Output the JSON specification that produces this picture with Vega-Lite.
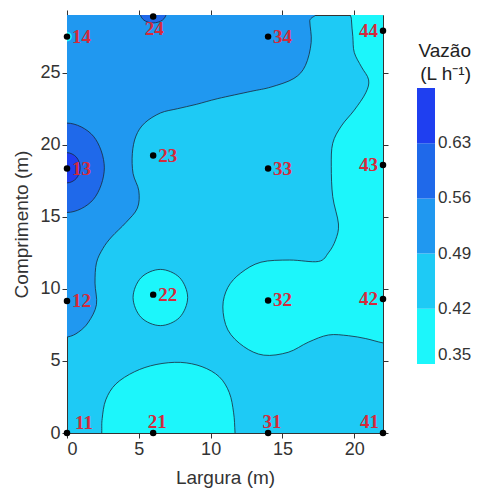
{
  "$schema": "https://vega.github.io/schema/vega-lite/v6.json",
  "width": 316,
  "height": 418,
  "autosize": {"type": "none"},
  "padding": {"left": 67, "top": 15, "right": 117, "bottom": 57},
  "config": {
    "view": {"fill": "#1ECAF5", "stroke": null},
    "font": "Liberation Sans",
    "axis": {
      "grid": false,
      "labelFontSize": 18,
      "labelColor": "#333333",
      "labelFont": "Liberation Sans",
      "tickColor": "#333333",
      "domainColor": "#333333",
      "tickSize": 5,
      "labelPadding": 2,
      "titleFontSize": 19,
      "titleFontWeight": "normal",
      "titleColor": "#333333",
      "titleFont": "Liberation Sans"
    }
  },
  "datasets": {
    "poly": [
      {"p": "L1", "v": 0.38, "i": 1, "x": 2.42, "y": 0},
      {"p": "L1", "v": 0.38, "i": 2, "x": 2.45, "y": 1.0},
      {"p": "L1", "v": 0.38, "i": 3, "x": 2.7, "y": 2.3},
      {"p": "L1", "v": 0.38, "i": 4, "x": 3.4, "y": 3.4},
      {"p": "L1", "v": 0.38, "i": 5, "x": 4.7, "y": 4.25},
      {"p": "L1", "v": 0.38, "i": 6, "x": 6.2, "y": 4.75},
      {"p": "L1", "v": 0.38, "i": 7, "x": 7.9, "y": 4.9},
      {"p": "L1", "v": 0.38, "i": 8, "x": 9.4, "y": 4.6},
      {"p": "L1", "v": 0.38, "i": 9, "x": 10.6, "y": 3.9},
      {"p": "L1", "v": 0.38, "i": 10, "x": 11.3, "y": 2.8},
      {"p": "L1", "v": 0.38, "i": 11, "x": 11.6, "y": 1.4},
      {"p": "L1", "v": 0.38, "i": 12, "x": 11.7, "y": 0},
      {"p": "L1", "v": 0.38, "i": 13, "x": 11.8, "y": -2},
      {"p": "L1", "v": 0.38, "i": 14, "x": 2.4, "y": -2},

      {"p": "L2", "v": 0.38, "i": 1, "x": 8.4, "y": 9.4},
      {"p": "L2", "v": 0.38, "i": 2, "x": 7.84, "y": 10.78},
      {"p": "L2", "v": 0.38, "i": 3, "x": 6.5, "y": 11.35},
      {"p": "L2", "v": 0.38, "i": 4, "x": 5.16, "y": 10.78},
      {"p": "L2", "v": 0.38, "i": 5, "x": 4.6, "y": 9.4},
      {"p": "L2", "v": 0.38, "i": 6, "x": 5.16, "y": 8.02},
      {"p": "L2", "v": 0.38, "i": 7, "x": 6.5, "y": 7.45},
      {"p": "L2", "v": 0.38, "i": 8, "x": 7.84, "y": 8.02},

      {"p": "L3", "v": 0.38, "i": 1, "x": 23.5, "y": 6.0},
      {"p": "L3", "v": 0.38, "i": 2, "x": 22, "y": 6.25},
      {"p": "L3", "v": 0.38, "i": 3, "x": 20.8, "y": 6.55},
      {"p": "L3", "v": 0.38, "i": 4, "x": 19.6, "y": 6.75},
      {"p": "L3", "v": 0.38, "i": 5, "x": 18.2, "y": 6.8},
      {"p": "L3", "v": 0.38, "i": 6, "x": 16.8, "y": 6.3},
      {"p": "L3", "v": 0.38, "i": 7, "x": 15.4, "y": 5.6},
      {"p": "L3", "v": 0.38, "i": 8, "x": 13.7, "y": 5.4},
      {"p": "L3", "v": 0.38, "i": 9, "x": 12.3, "y": 6.0},
      {"p": "L3", "v": 0.38, "i": 10, "x": 11.2, "y": 7.15},
      {"p": "L3", "v": 0.38, "i": 11, "x": 10.85, "y": 8.75},
      {"p": "L3", "v": 0.38, "i": 12, "x": 11.2, "y": 10.1},
      {"p": "L3", "v": 0.38, "i": 13, "x": 12.1, "y": 11.1},
      {"p": "L3", "v": 0.38, "i": 14, "x": 13.5, "y": 11.85},
      {"p": "L3", "v": 0.38, "i": 15, "x": 15.5, "y": 12.0},
      {"p": "L3", "v": 0.38, "i": 16, "x": 17.5, "y": 11.9},
      {"p": "L3", "v": 0.38, "i": 17, "x": 18.2, "y": 12.5},
      {"p": "L3", "v": 0.38, "i": 18, "x": 18.7, "y": 13.4},
      {"p": "L3", "v": 0.38, "i": 19, "x": 18.9, "y": 14.5},
      {"p": "L3", "v": 0.38, "i": 20, "x": 18.5, "y": 16.4},
      {"p": "L3", "v": 0.38, "i": 21, "x": 18.4, "y": 18.5},
      {"p": "L3", "v": 0.38, "i": 22, "x": 18.5, "y": 20.1},
      {"p": "L3", "v": 0.38, "i": 23, "x": 19.1, "y": 21.3},
      {"p": "L3", "v": 0.38, "i": 24, "x": 20.0, "y": 22.4},
      {"p": "L3", "v": 0.38, "i": 25, "x": 20.8, "y": 23.6},
      {"p": "L3", "v": 0.38, "i": 26, "x": 21.0, "y": 24.5},
      {"p": "L3", "v": 0.38, "i": 27, "x": 20.5, "y": 25.4},
      {"p": "L3", "v": 0.38, "i": 28, "x": 20.0, "y": 26.4},
      {"p": "L3", "v": 0.38, "i": 29, "x": 19.9, "y": 27.5},
      {"p": "L3", "v": 0.38, "i": 30, "x": 19.8, "y": 28.7},
      {"p": "L3", "v": 0.38, "i": 31, "x": 19.8, "y": 30},
      {"p": "L3", "v": 0.38, "i": 32, "x": 23.5, "y": 30.5},

      {"p": "M1", "v": 0.52, "i": 1, "x": -1.5, "y": 6.5},
      {"p": "M1", "v": 0.52, "i": 2, "x": 0, "y": 6.65},
      {"p": "M1", "v": 0.52, "i": 3, "x": 0.8, "y": 7.0},
      {"p": "M1", "v": 0.52, "i": 4, "x": 1.5, "y": 7.7},
      {"p": "M1", "v": 0.52, "i": 5, "x": 2.05, "y": 8.9},
      {"p": "M1", "v": 0.52, "i": 6, "x": 1.95, "y": 10.4},
      {"p": "M1", "v": 0.52, "i": 7, "x": 2.05, "y": 11.8},
      {"p": "M1", "v": 0.52, "i": 8, "x": 2.5, "y": 12.8},
      {"p": "M1", "v": 0.52, "i": 9, "x": 3.1, "y": 13.6},
      {"p": "M1", "v": 0.52, "i": 10, "x": 4.1, "y": 14.6},
      {"p": "M1", "v": 0.52, "i": 11, "x": 4.9, "y": 15.6},
      {"p": "M1", "v": 0.52, "i": 12, "x": 5.0, "y": 16.8},
      {"p": "M1", "v": 0.52, "i": 13, "x": 4.6, "y": 18.0},
      {"p": "M1", "v": 0.52, "i": 14, "x": 4.55, "y": 19.4},
      {"p": "M1", "v": 0.52, "i": 15, "x": 4.8, "y": 20.6},
      {"p": "M1", "v": 0.52, "i": 16, "x": 5.4, "y": 21.5},
      {"p": "M1", "v": 0.52, "i": 17, "x": 6.5, "y": 22.2},
      {"p": "M1", "v": 0.52, "i": 18, "x": 7.7, "y": 22.5},
      {"p": "M1", "v": 0.52, "i": 19, "x": 9.0, "y": 22.8},
      {"p": "M1", "v": 0.52, "i": 20, "x": 10.5, "y": 23.2},
      {"p": "M1", "v": 0.52, "i": 21, "x": 12.8, "y": 23.7},
      {"p": "M1", "v": 0.52, "i": 22, "x": 14.2, "y": 24.0},
      {"p": "M1", "v": 0.52, "i": 23, "x": 15.8, "y": 24.6},
      {"p": "M1", "v": 0.52, "i": 24, "x": 16.6, "y": 25.5},
      {"p": "M1", "v": 0.52, "i": 25, "x": 17.0, "y": 27.1},
      {"p": "M1", "v": 0.52, "i": 26, "x": 16.9, "y": 28.6},
      {"p": "M1", "v": 0.52, "i": 27, "x": 16.9, "y": 30},
      {"p": "M1", "v": 0.52, "i": 28, "x": -1.5, "y": 30.5},

      {"p": "N1", "v": 0.59, "i": 1, "x": 2.6, "y": 18.4},
      {"p": "N1", "v": 0.59, "i": 2, "x": 1.84, "y": 20.59},
      {"p": "N1", "v": 0.59, "i": 3, "x": 0, "y": 21.5},
      {"p": "N1", "v": 0.59, "i": 4, "x": -1.84, "y": 20.59},
      {"p": "N1", "v": 0.59, "i": 5, "x": -2.6, "y": 18.4},
      {"p": "N1", "v": 0.59, "i": 6, "x": -1.84, "y": 16.21},
      {"p": "N1", "v": 0.59, "i": 7, "x": 0, "y": 15.3},
      {"p": "N1", "v": 0.59, "i": 8, "x": 1.84, "y": 16.21},

      {"p": "N2", "v": 0.59, "i": 1, "x": 6.9, "y": 29.1},
      {"p": "N2", "v": 0.59, "i": 2, "x": 6.64, "y": 29.56},
      {"p": "N2", "v": 0.59, "i": 3, "x": 6.0, "y": 29.75},
      {"p": "N2", "v": 0.59, "i": 4, "x": 5.36, "y": 29.56},
      {"p": "N2", "v": 0.59, "i": 5, "x": 5.1, "y": 29.1},
      {"p": "N2", "v": 0.59, "i": 6, "x": 5.36, "y": 28.64},
      {"p": "N2", "v": 0.59, "i": 7, "x": 6.0, "y": 28.45},
      {"p": "N2", "v": 0.59, "i": 8, "x": 6.64, "y": 28.64},

      {"p": "O1", "v": 0.66, "i": 1, "x": 0.92, "y": 18.4},
      {"p": "O1", "v": 0.66, "i": 2, "x": 0.65, "y": 19.14},
      {"p": "O1", "v": 0.66, "i": 3, "x": 0, "y": 19.45},
      {"p": "O1", "v": 0.66, "i": 4, "x": -0.65, "y": 19.14},
      {"p": "O1", "v": 0.66, "i": 5, "x": -0.92, "y": 18.4},
      {"p": "O1", "v": 0.66, "i": 6, "x": -0.65, "y": 17.66},
      {"p": "O1", "v": 0.66, "i": 7, "x": 0, "y": 17.35},
      {"p": "O1", "v": 0.66, "i": 8, "x": 0.65, "y": 17.66},

      {"p": "H1", "v": 0.38, "i": 1, "x": 0.34, "y": 27.5},
      {"p": "H1", "v": 0.38, "i": 2, "x": 0.24, "y": 27.74},
      {"p": "H1", "v": 0.38, "i": 3, "x": 0, "y": 27.84},
      {"p": "H1", "v": 0.38, "i": 4, "x": -0.24, "y": 27.74},
      {"p": "H1", "v": 0.38, "i": 5, "x": -0.34, "y": 27.5},
      {"p": "H1", "v": 0.38, "i": 6, "x": -0.24, "y": 27.26},
      {"p": "H1", "v": 0.38, "i": 7, "x": 0, "y": 27.16},
      {"p": "H1", "v": 0.38, "i": 8, "x": 0.24, "y": 27.26}
    ],
    "pts": [
      {"id": "11", "x": 0, "y": 0},
      {"id": "12", "x": 0, "y": 9.15},
      {"id": "13", "x": 0, "y": 18.35},
      {"id": "14", "x": 0, "y": 27.5},
      {"id": "21", "x": 6, "y": 0},
      {"id": "22", "x": 6, "y": 9.6},
      {"id": "23", "x": 6, "y": 19.25},
      {"id": "24", "x": 6, "y": 28.9},
      {"id": "31", "x": 14, "y": 0},
      {"id": "32", "x": 14, "y": 9.2},
      {"id": "33", "x": 14, "y": 18.35},
      {"id": "34", "x": 14, "y": 27.5},
      {"id": "41", "x": 22, "y": 0},
      {"id": "42", "x": 22, "y": 9.3},
      {"id": "43", "x": 22, "y": 18.6},
      {"id": "44", "x": 22, "y": 27.9}
    ]
  },
  "layer": [
    {
      "data": {"name": "poly"},
      "transform": [{"filter": "datum.v < 0.63 && datum.p != 'H1'"}],
      "mark": {"type": "line", "filled": true, "interpolate": "cardinal-closed", "stroke": "#1b2838", "strokeWidth": 0.8, "clip": true},
      "encoding": {
        "x": {"field": "x", "type": "quantitative", "scale": {"domain": [0, 22], "nice": false, "zero": false},
          "axis": {"orient": "bottom", "values": [0, 5, 10, 15, 20], "title": "Largura (m)", "titlePadding": 10}},
        "y": {"field": "y", "type": "quantitative", "scale": {"domain": [0, 29], "nice": false, "zero": false},
          "axis": {"orient": "left", "values": [0, 5, 10, 15, 20, 25], "title": "Comprimento (m)", "titlePadding": 8}},
        "detail": {"field": "p", "type": "nominal"},
        "order": {"field": "i", "type": "quantitative"},
        "color": {
          "field": "v", "type": "quantitative",
          "scale": {"type": "threshold", "domain": [0.42, 0.49, 0.56, 0.63], "range": ["#1CF6FB", "#1ECAF5", "#2098F0", "#1F69EA", "#1F3FF0"]},
          "legend": {
            "type": "gradient",
            "orient": "none",
            "legendX": 350,
            "legendY": 27,
            "values": [0.3501, 0.42, 0.49, 0.56, 0.63],
            "gradientLength": 276,
            "gradientThickness": 18,
            "gradientStrokeWidth": 0,
            "labelFontSize": 17,
            "labelColor": "#333333",
            "labelFont": "Liberation Sans",
            "labelOffset": 3,
            "labelOverlap": false,
            "labelBaseline": "middle",
            "labelExpr": "format(datum.value, '.2f') + '\u00a0\u00a0\u00a0\u00a0\u00a0\u00a0'",
            "title": ["Vazão", "(L h⁻¹)"],
            "titleFont": "Liberation Sans",
            "titleFontSize": 19,
            "titleFontWeight": "normal",
            "titleColor": "#222222",
            "titleLineHeight": 23,
            "titleAlign": "right",
            "titleAnchor": "end",
            "titlePadding": 4
          }
        }
      }
    },
    {
      "data": {"name": "poly"},
      "transform": [{"filter": "datum.v > 0.63"}],
      "mark": {"type": "line", "filled": true, "interpolate": "cardinal-closed", "stroke": "#1b2838", "strokeWidth": 0.8, "clip": true},
      "encoding": {
        "x": {"field": "x", "type": "quantitative", "scale": {"domain": [0, 22], "nice": false, "zero": false}, "axis": null},
        "y": {"field": "y", "type": "quantitative", "scale": {"domain": [0, 29], "nice": false, "zero": false}, "axis": null},
        "detail": {"field": "p", "type": "nominal"},
        "order": {"field": "i", "type": "quantitative"},
        "color": {"field": "v", "type": "quantitative", "scale": {"type": "threshold", "domain": [0.42, 0.49, 0.56, 0.63], "range": ["#1CF6FB", "#1ECAF5", "#2098F0", "#1F69EA", "#1F3FF0"]}}
      }
    },
    {
      "data": {"name": "poly"},
      "transform": [{"filter": "datum.p == 'H1'"}],
      "mark": {"type": "line", "filled": true, "interpolate": "cardinal-closed", "strokeWidth": 0, "clip": true},
      "encoding": {
        "x": {"field": "x", "type": "quantitative", "scale": {"domain": [0, 22], "nice": false, "zero": false}, "axis": null},
        "y": {"field": "y", "type": "quantitative", "scale": {"domain": [0, 29], "nice": false, "zero": false}, "axis": null},
        "detail": {"field": "p", "type": "nominal"},
        "order": {"field": "i", "type": "quantitative"},
        "color": {"field": "v", "type": "quantitative", "scale": {"type": "threshold", "domain": [0.42, 0.49, 0.56, 0.63], "range": ["#1CF6FB", "#1ECAF5", "#2098F0", "#1F69EA", "#1F3FF0"]}}
      }
    },
    {
      "data": {"name": "pts"},
      "mark": {"type": "circle", "size": 42, "color": "#000000", "opacity": 1},
      "encoding": {
        "x": {"field": "x", "type": "quantitative", "scale": {"domain": [0, 22], "nice": false, "zero": false},
          "axis": {"orient": "top", "values": [0, 5, 10, 15, 20], "labels": false, "title": null}},
        "y": {"field": "y", "type": "quantitative", "scale": {"domain": [0, 29], "nice": false, "zero": false},
          "axis": {"orient": "right", "values": [0, 5, 10, 15, 20, 25], "labels": false, "title": null}}
      }
    },
    {
      "data": {"name": "pts"},
      "transform": [{"filter": "datum.y > 0 && datum.y < 28.5 && datum.x < 22"}],
      "mark": {"type": "text", "align": "left", "baseline": "middle", "dx": 5, "font": "Liberation Serif", "fontWeight": "bold", "fontSize": 19, "color": "#D42A3C"},
      "encoding": {
        "x": {"field": "x", "type": "quantitative", "scale": {"domain": [0, 22], "nice": false, "zero": false}, "axis": null},
        "y": {"field": "y", "type": "quantitative", "scale": {"domain": [0, 29], "nice": false, "zero": false}, "axis": null},
        "text": {"field": "id"}
      }
    },
    {
      "data": {"name": "pts"},
      "transform": [{"filter": "datum.y > 0 && datum.x == 22"}],
      "mark": {"type": "text", "align": "right", "baseline": "middle", "dx": -5, "font": "Liberation Serif", "fontWeight": "bold", "fontSize": 19, "color": "#D42A3C"},
      "encoding": {
        "x": {"field": "x", "type": "quantitative", "scale": {"domain": [0, 22], "nice": false, "zero": false}, "axis": null},
        "y": {"field": "y", "type": "quantitative", "scale": {"domain": [0, 29], "nice": false, "zero": false}, "axis": null},
        "text": {"field": "id"}
      }
    },
    {
      "data": {"name": "pts"},
      "transform": [{"filter": "datum.y >= 28.5"}],
      "mark": {"type": "text", "align": "center", "baseline": "middle", "dx": 1, "dy": 13, "font": "Liberation Serif", "fontWeight": "bold", "fontSize": 19, "color": "#D42A3C"},
      "encoding": {
        "x": {"field": "x", "type": "quantitative", "scale": {"domain": [0, 22], "nice": false, "zero": false}, "axis": null},
        "y": {"field": "y", "type": "quantitative", "scale": {"domain": [0, 29], "nice": false, "zero": false}, "axis": null},
        "text": {"field": "id"}
      }
    },
    {
      "data": {"name": "pts"},
      "transform": [{"filter": "datum.y == 0 && datum.x == 0"}],
      "mark": {"type": "text", "align": "left", "baseline": "middle", "dx": 8, "dy": -10, "font": "Liberation Serif", "fontWeight": "bold", "fontSize": 19, "color": "#D42A3C"},
      "encoding": {
        "x": {"field": "x", "type": "quantitative", "scale": {"domain": [0, 22], "nice": false, "zero": false}, "axis": null},
        "y": {"field": "y", "type": "quantitative", "scale": {"domain": [0, 29], "nice": false, "zero": false}, "axis": null},
        "text": {"field": "id"}
      }
    },
    {
      "data": {"name": "pts"},
      "transform": [{"filter": "datum.y == 0 && datum.x > 0 && datum.x < 22"}],
      "mark": {"type": "text", "align": "center", "baseline": "middle", "dx": 4, "dy": -11, "font": "Liberation Serif", "fontWeight": "bold", "fontSize": 19, "color": "#D42A3C"},
      "encoding": {
        "x": {"field": "x", "type": "quantitative", "scale": {"domain": [0, 22], "nice": false, "zero": false}, "axis": null},
        "y": {"field": "y", "type": "quantitative", "scale": {"domain": [0, 29], "nice": false, "zero": false}, "axis": null},
        "text": {"field": "id"}
      }
    },
    {
      "data": {"name": "pts"},
      "transform": [{"filter": "datum.y == 0 && datum.x == 22"}],
      "mark": {"type": "text", "align": "right", "baseline": "middle", "dx": -4, "dy": -11, "font": "Liberation Serif", "fontWeight": "bold", "fontSize": 19, "color": "#D42A3C"},
      "encoding": {
        "x": {"field": "x", "type": "quantitative", "scale": {"domain": [0, 22], "nice": false, "zero": false}, "axis": null},
        "y": {"field": "y", "type": "quantitative", "scale": {"domain": [0, 29], "nice": false, "zero": false}, "axis": null},
        "text": {"field": "id"}
      }
    }
  ],
  "resolve": {"axis": {"x": "independent", "y": "independent"}}
}
